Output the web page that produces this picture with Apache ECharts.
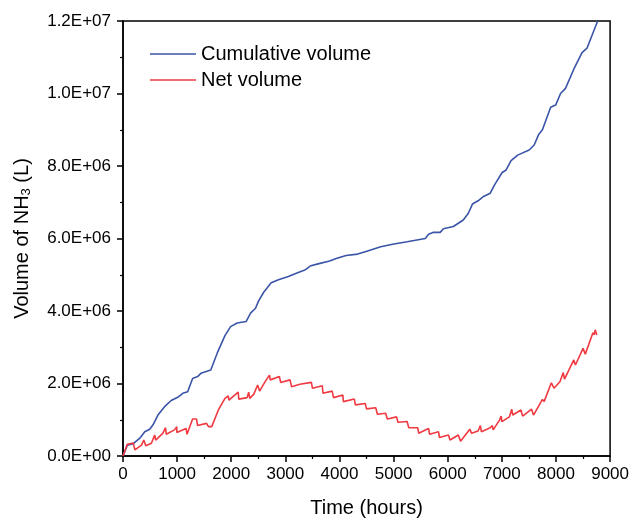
<!DOCTYPE html>
<html>
<head>
<meta charset="utf-8">
<script src="https://cdn.jsdelivr.net/npm/echarts@6/dist/echarts.min.js"></script>
<style>html,body{margin:0;padding:0;background:#fff;}#c{width:632px;height:523px;}</style>
</head>
<body>
<div id="c"></div>
<script>
// Time (hours) and volume (L) — cumulative volume
const cumTime = [0, 80, 190, 220, 311, 402, 494, 555, 646, 768, 890, 1012, 1104, 1195, 1286, 1378, 1439, 1622, 1744, 1884, 1988, 2110, 2274, 2360, 2446, 2506, 2597, 2658, 2738, 2872, 3055, 3238, 3360, 3470, 3604, 3817, 3939, 4122, 4335, 4506, 4762, 5006, 5250, 5585, 5646, 5738, 5860, 5921, 6104, 6287, 6378, 6457, 6561, 6652, 6786, 6865, 7006, 7079, 7171, 7293, 7505, 7597, 7677, 7750, 7902, 7994, 8085, 8176, 8329, 8482, 8573, 8770];
const cumVol = [0, 0.30e6, 0.34e6, 0.36e6, 0.49e6, 0.67e6, 0.74e6, 0.86e6, 1.13e6, 1.36e6, 1.53e6, 1.62e6, 1.73e6, 1.77e6, 2.14e6, 2.19e6, 2.28e6, 2.37e6, 2.85e6, 3.32e6, 3.57e6, 3.67e6, 3.71e6, 3.95e6, 4.07e6, 4.28e6, 4.51e6, 4.63e6, 4.78e6, 4.86e6, 4.95e6, 5.06e6, 5.13e6, 5.25e6, 5.30e6, 5.38e6, 5.45e6, 5.53e6, 5.57e6, 5.65e6, 5.77e6, 5.85e6, 5.91e6, 6.00e6, 6.12e6, 6.17e6, 6.17e6, 6.27e6, 6.33e6, 6.51e6, 6.69e6, 6.95e6, 7.04e6, 7.15e6, 7.25e6, 7.48e6, 7.82e6, 7.89e6, 8.15e6, 8.30e6, 8.44e6, 8.58e6, 8.86e6, 9.00e6, 9.62e6, 9.68e6, 10.0e6, 10.14e6, 10.67e6, 11.13e6, 11.25e6, 12.0e6];
// Net volume
const netTime = [0, 79, 189, 220, 342, 384, 421, 525, 585, 604, 738, 787, 799, 951, 994, 995, 1165, 1183, 1286, 1359, 1378, 1543, 1579, 1640, 1762, 1884, 1945, 1957, 2049, 2128, 2140, 2293, 2323, 2341, 2415, 2488, 2524, 2610, 2647, 2707, 2720, 2890, 2914, 3086, 3115, 3268, 3481, 3499, 3682, 3695, 3865, 3890, 4061, 4073, 4274, 4293, 4476, 4500, 4670, 4701, 4853, 4884, 5055, 5079, 5250, 5280, 5445, 5463, 5646, 5665, 5829, 5848, 6013, 6042, 6195, 6237, 6408, 6439, 6561, 6603, 6622, 6786, 6823, 6840, 6957, 6987, 7000, 7140, 7183, 7201, 7353, 7384, 7549, 7585, 7750, 7780, 7915, 7963, 8073, 8134, 8158, 8329, 8360, 8500, 8542, 8683, 8707, 8725, 8756];
const netVol = [0, 0.32e6, 0.36e6, 0.17e6, 0.30e6, 0.44e6, 0.28e6, 0.35e6, 0.58e6, 0.44e6, 0.63e6, 0.78e6, 0.60e6, 0.72e6, 0.81e6, 0.65e6, 0.76e6, 0.60e6, 1.02e6, 1.02e6, 0.84e6, 0.90e6, 0.81e6, 0.81e6, 1.27e6, 1.59e6, 1.66e6, 1.54e6, 1.66e6, 1.76e6, 1.57e6, 1.61e6, 1.76e6, 1.59e6, 1.70e6, 1.96e6, 1.79e6, 2.01e6, 2.10e6, 2.23e6, 2.10e6, 2.19e6, 2.03e6, 2.10e6, 1.91e6, 1.98e6, 2.03e6, 1.87e6, 1.94e6, 1.73e6, 1.79e6, 1.61e6, 1.68e6, 1.50e6, 1.57e6, 1.41e6, 1.45e6, 1.30e6, 1.33e6, 1.15e6, 1.18e6, 1.02e6, 1.08e6, 0.93e6, 0.95e6, 0.78e6, 0.78e6, 0.63e6, 0.76e6, 0.60e6, 0.67e6, 0.51e6, 0.58e6, 0.44e6, 0.58e6, 0.41e6, 0.74e6, 0.63e6, 0.69e6, 0.84e6, 0.67e6, 0.78e6, 0.84e6, 0.72e6, 0.99e6, 1.10e6, 0.95e6, 1.08e6, 1.29e6, 1.13e6, 1.27e6, 1.10e6, 1.29e6, 1.13e6, 1.56e6, 1.50e6, 2.02e6, 1.87e6, 2.05e6, 2.30e6, 2.12e6, 2.65e6, 2.51e6, 2.97e6, 2.81e6, 3.40e6, 3.34e6, 3.48e6, 3.34e6];
const seriesNames = ['Cumulative volume', 'Net volume'];
const xTicks = [0, 1000, 2000, 3000, 4000, 5000, 6000, 7000, 8000, 9000];
const yTicks = [0, 2e6, 4e6, 6e6, 8e6, 10e6, 12e6];

function sci(v) {
  if (v === 0) return '0.0E+00';
  const e = Math.floor(Math.log10(Math.abs(v)) + 1e-9);
  const m = v / Math.pow(10, e);
  return m.toFixed(1) + 'E+' + (e < 10 ? '0' + e : e);
}
const FONT = '"Liberation Sans", Arial, sans-serif';
const chart = echarts.init(document.getElementById('c'));
chart.setOption({
  animation: false,
  backgroundColor: '#fff',
  grid: { left: 123, right: 17, top: 21, bottom: 67, show: true, borderColor: '#000', borderWidth: 1.5, backgroundColor: 'transparent' },
  legend: {
    orient: 'vertical', left: 145, top: 39, icon: 'rect', itemWidth: 46, itemHeight: 1.6, itemGap: 6,
    data: seriesNames,
    textStyle: { fontFamily: FONT, fontSize: 20, color: '#000', padding: [0, 0, 0, 0] }
  },
  xAxis: {
    type: 'value', min: xTicks[0], max: xTicks[xTicks.length - 1], interval: 1000,
    name: 'Time (hours)', nameLocation: 'middle', nameGap: 42,
    nameTextStyle: { fontFamily: FONT, fontSize: 20, color: '#000' },
    axisLine: { show: true, lineStyle: { color: '#000', width: 1.5 } },
    axisTick: { show: true, inside: false, length: 6, lineStyle: { color: '#000', width: 1.5 } },
    minorTick: { show: true, splitNumber: 2, length: 3, lineStyle: { color: '#000', width: 1.2 } },
    splitLine: { show: false },
    axisLabel: { fontFamily: FONT, fontSize: 17, color: '#000', margin: 10, formatter: v => String(v) }
  },
  yAxis: {
    type: 'value', min: yTicks[0], max: yTicks[yTicks.length - 1], interval: 2e6,
    name: 'Volume of NH{sub|3} (L)', nameLocation: 'middle', nameGap: 90, nameRotate: 90,
    nameTextStyle: { fontFamily: FONT, fontSize: 20, color: '#000',
      rich: { sub: { fontFamily: FONT, fontSize: 13, color: '#000', verticalAlign: 'bottom', padding: [8, 0, 0, 0] } } },
    axisLine: { show: true, lineStyle: { color: '#000', width: 1.5 } },
    axisTick: { show: true, inside: false, length: 6, lineStyle: { color: '#000', width: 1.5 } },
    minorTick: { show: true, splitNumber: 2, length: 3, lineStyle: { color: '#000', width: 1.2 } },
    splitLine: { show: false },
    axisLabel: { fontFamily: FONT, fontSize: 17, color: '#000', margin: 12, formatter: sci }
  },
  series: [
    { name: seriesNames[0], type: 'line', symbol: 'none', data: cumTime.map((t, i) => [t, cumVol[i]]),
      lineStyle: { color: '#3a55a7', width: 1.6 }, itemStyle: { color: '#3a55a7' }, z: 2 },
    { name: seriesNames[1], type: 'line', symbol: 'none', data: netTime.map((t, i) => [t, netVol[i]]),
      lineStyle: { color: '#ef3a42', width: 1.6 }, itemStyle: { color: '#ef3a42' }, z: 3 }
  ]
});
</script>
</body>
</html>
